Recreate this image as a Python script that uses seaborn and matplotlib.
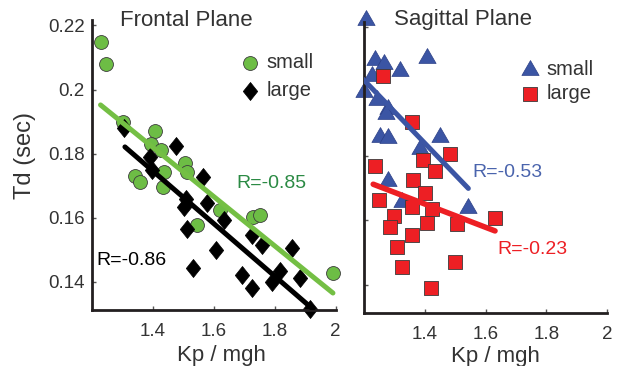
import matplotlib
matplotlib.use("Agg")
import matplotlib.pyplot as plt
from matplotlib.path import Path
import pandas as pd
import seaborn as sns

# ---------------- data ----------------
frontal_small_kp = [1.230, 1.247, 1.303, 1.408, 1.394, 1.427, 1.342, 1.358, 1.437,
                    1.434, 1.506, 1.512, 1.621, 1.545, 1.729, 1.752, 1.991]
frontal_small_td = [0.2148, 0.2080, 0.1898, 0.1870, 0.1830, 0.1811, 0.1730, 0.1711, 0.1742,
                    0.1695, 0.1770, 0.1742, 0.1623, 0.1577, 0.1602, 0.1608, 0.1427]

frontal_large_kp = [1.306, 1.476, 1.391, 1.398, 1.565, 1.509, 1.503, 1.578, 1.634, 1.512,
                    1.607, 1.532, 1.726, 1.758, 1.857, 1.693, 1.726, 1.791, 1.817, 1.883, 1.916]
frontal_large_td = [0.1880, 0.1823, 0.1789, 0.1748, 0.1727, 0.1658, 0.1633, 0.1645, 0.1592, 0.1564,
                    0.1498, 0.1442, 0.1545, 0.1514, 0.1505, 0.1420, 0.1380, 0.1398, 0.1433, 0.1411, 0.1314]

sagittal_small_kp = [1.205, 1.235, 1.265, 1.317, 1.407, 1.225, 1.197, 1.242, 1.278,
                     1.271, 1.251, 1.278, 1.450, 1.383, 1.278, 1.324, 1.542]
sagittal_small_td = [0.2222, 0.2098, 0.2085, 0.2064, 0.2104, 0.2048, 0.1998, 0.1974, 0.1946,
                     0.1930, 0.1859, 0.1856, 0.1859, 0.1821, 0.1722, 0.1657, 0.1638]

sagittal_large_kp = [1.261, 1.357, 1.483, 1.393, 1.433, 1.235, 1.360, 1.400, 1.248, 1.357, 1.423,
                     1.298, 1.284, 1.407, 1.506, 1.631, 1.357, 1.308, 1.324, 1.499, 1.420]
sagittal_large_td = [0.2048, 0.1905, 0.1806, 0.1787, 0.1753, 0.1769, 0.1725, 0.1685, 0.1663, 0.1641, 0.1635,
                     0.1613, 0.1579, 0.1591, 0.1588, 0.1607, 0.1554, 0.1517, 0.1455, 0.1470, 0.1390]

# regression lines (end points)
fit_frontal_small_kp = [1.229, 1.991]
fit_frontal_small_td = [0.1952, 0.1365]
fit_frontal_large_kp = [1.309, 1.925]
fit_frontal_large_td = [0.1821, 0.1315]
fit_sagittal_small_kp = [1.196, 1.543]
fit_sagittal_small_td = [0.2038, 0.1699]
fit_sagittal_large_kp = [1.229, 1.631]
fit_sagittal_large_td = [0.1712, 0.1567]

r_labels = ["R=-0.85", "R=-0.86", "R=-0.53", "R=-0.23"]
panel_titles = ["Frontal Plane", "Sagittal Plane"]
series_labels = ["small", "large"]
x_ticks = [1.4, 1.6, 1.8, 2.0]
x_ticklabels = ["1.4", "1.6", "1.8", "2"]
y_ticks = [0.14, 0.16, 0.18, 0.20, 0.22]
y_ticklabels = ["0.14", "0.16", "0.18", "0.2", "0.22"]

# ---------------- style ----------------
sns.set_style("white")
plt.rcParams["font.family"] = ["Liberation Sans", "DejaVu Sans"]

GREEN = "#6dbd45"
GREEN_LINE = "#74bf44"
GREEN_TXT = "#2b8a44"
BLUE = "#3b55a4"
BLUE_TXT = "#4a64ad"
RED = "#ed1f24"
TXT = "#333333"

diamond = Path([(0, 1), (0.8, 0), (0, -1), (-0.8, 0), (0, 1)],
               [Path.MOVETO, Path.LINETO, Path.LINETO, Path.LINETO, Path.CLOSEPOLY])
triangle = Path([(-1, -0.577), (1, -0.577), (0, 1.155), (-1, -0.577)],
                [Path.MOVETO, Path.LINETO, Path.LINETO, Path.CLOSEPOLY])

fig = plt.figure(figsize=(6.22, 3.66), dpi=100)
axL = fig.add_axes([0.1474, 0.153, 0.3923, 0.7923])
axR = fig.add_axes([0.5859, 0.1448, 0.3897, 0.796])

df_fs = pd.DataFrame({"kp": frontal_small_kp, "td": frontal_small_td})
df_fl = pd.DataFrame({"kp": frontal_large_kp, "td": frontal_large_td})
df_ss = pd.DataFrame({"kp": sagittal_small_kp, "td": sagittal_small_td})
df_sl = pd.DataFrame({"kp": sagittal_large_kp, "td": sagittal_large_td})

# frontal
sns.scatterplot(data=df_fs, x="kp", y="td", ax=axL, marker="o", s=100, color=GREEN,
                edgecolor="#3d3d3d", linewidth=0.6, label=series_labels[0], clip_on=False, zorder=2)
sns.scatterplot(data=df_fl, x="kp", y="td", ax=axL, marker=diamond, s=169, color="black",
                edgecolor="black", linewidth=0.5, label=series_labels[1], clip_on=False, zorder=2)
sns.lineplot(x=fit_frontal_small_kp, y=fit_frontal_small_td, ax=axL, color=GREEN_LINE,
             lw=3.6, estimator=None, sort=False, zorder=3)
sns.lineplot(x=fit_frontal_large_kp, y=fit_frontal_large_td, ax=axL, color="black",
             lw=3.6, estimator=None, sort=False, zorder=3)

# sagittal
sns.scatterplot(data=df_ss, x="kp", y="td", ax=axR, marker=triangle, s=205, color=BLUE,
                edgecolor="#2b3f86", linewidth=0.5, label=series_labels[0], clip_on=False, zorder=2)
sns.scatterplot(data=df_sl, x="kp", y="td", ax=axR, marker="s", s=88, color=RED,
                edgecolor="#3a3a3a", linewidth=0.6, label=series_labels[1], clip_on=False, zorder=2)
sns.lineplot(x=fit_sagittal_small_kp, y=fit_sagittal_small_td, ax=axR, color=BLUE,
             lw=3.6, estimator=None, sort=False, zorder=3)
sns.lineplot(x=fit_sagittal_large_kp, y=fit_sagittal_large_td, ax=axR, color=RED,
             lw=4.0, estimator=None, sort=False, zorder=3)

for ax in (axL, axR):
    ax.set_xlim(1.2, 2.0)
    ax.set_ylim(0.1312, 0.2217)
    ax.set_xticks(x_ticks)
    ax.set_xticklabels(x_ticklabels)
    ax.set_yticks(y_ticks)
    sns.despine(ax=ax)
    for sp in ("left", "bottom"):
        ax.spines[sp].set_color("#231f20")
        ax.spines[sp].set_linewidth(2.0)
    ax.tick_params(axis="both", direction="in", length=3, width=1, color="#555555",
                   labelsize=13.5, labelcolor=TXT, left=True, bottom=True)
    ax.tick_params(axis="x", pad=9)
    ax.tick_params(axis="y", pad=5)
    ax.set_xlabel("Kp / mgh", fontsize=16, color=TXT)
    ax.set_ylabel("")

axL.set_yticklabels(y_ticklabels)
axR.set_yticklabels([])
axL.set_ylabel("Td (sec)", fontsize=17, color=TXT)
axL.yaxis.set_label_coords(-0.228, 0.534)
axL.xaxis.set_label_coords(0.533, -0.122)
axR.xaxis.set_label_coords(0.539, -0.113)

axL.text(0.386, 0.997, panel_titles[0], transform=axL.transAxes, ha="center", va="center",
         fontsize=16, color=TXT)
axR.text(0.405, 1.009, panel_titles[1], transform=axR.transAxes, ha="center", va="center",
         fontsize=16, color=TXT)

axL.text(1.676, 0.1708, r_labels[0], color=GREEN_TXT, fontsize=14, ha="left", va="center")
axL.text(1.217, 0.1467, r_labels[1], color="black", fontsize=14, ha="left", va="center")
axR.text(1.555, 0.1750, r_labels[2], color=BLUE_TXT, fontsize=14, ha="left", va="center")
axR.text(1.638, 0.1508, r_labels[3], color=RED, fontsize=14, ha="left", va="center")

axL.legend(loc="upper left", bbox_to_anchor=(0.608, 0.886), frameon=False, fontsize=14.5,
           handlelength=1.0, handletextpad=0.3, labelspacing=0.45, borderpad=0, borderaxespad=0,
           labelcolor=TXT)
axR.legend(loc="upper left", bbox_to_anchor=(0.642, 0.868), frameon=False, fontsize=14.5,
           handlelength=1.0, handletextpad=0.3, labelspacing=0.25, borderpad=0, borderaxespad=0,
           labelcolor=TXT)

fig.savefig("out.png", dpi=100, facecolor="white")
